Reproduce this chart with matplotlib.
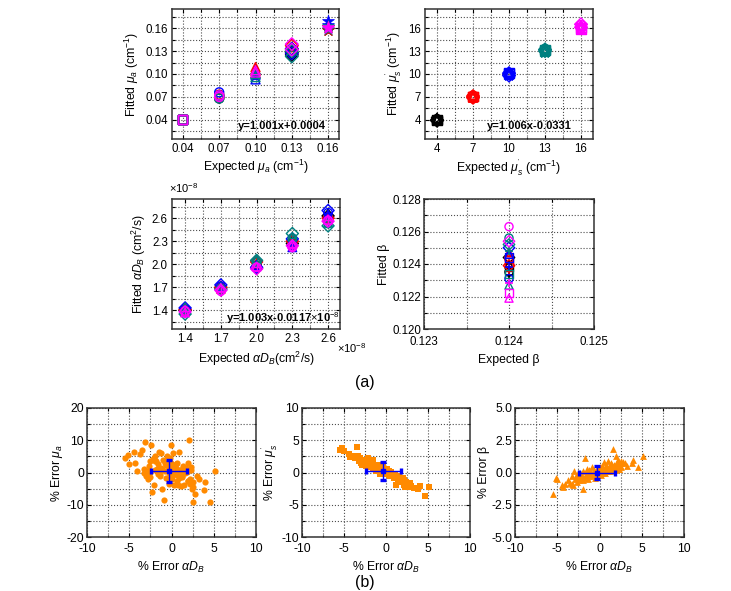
import matplotlib
matplotlib.use('Agg')
import matplotlib.pyplot as plt

plt.rcParams['font.family'] = ['Liberation Sans', 'DejaVu Sans']
plt.rcParams['mathtext.fontset'] = 'custom'
plt.rcParams['mathtext.rm'] = 'Liberation Sans'
plt.rcParams['mathtext.it'] = 'Liberation Sans:italic'
plt.rcParams['mathtext.bf'] = 'Liberation Sans:bold'
plt.rcParams['axes.unicode_minus'] = False

# ---------------- data ----------------
expected_mua = [0.04, 0.07, 0.10, 0.13, 0.16]
expected_mus = [4, 7, 10, 13, 16]
expected_db = [1.4, 1.7, 2.0, 2.3, 2.6]          # x 1e-8 cm^2/s
expected_beta = 0.124

# fitted mua, rows = mus' level (colour), cols = mua level, two runs
fit_mua_run1 = [
    [0.040, 0.068, 0.106, 0.125, 0.157],
    [0.040, 0.070, 0.109, 0.137, 0.161],
    [0.040, 0.076, 0.093, 0.133, 0.169],
    [0.040, 0.068, 0.096, 0.123, 0.163],
    [0.040, 0.072, 0.102, 0.139, 0.160],
]
fit_mua_run2 = [
    [0.041, 0.071, 0.101, 0.128, 0.162],
    [0.040, 0.073, 0.104, 0.133, 0.158],
    [0.041, 0.072, 0.099, 0.127, 0.164],
    [0.040, 0.071, 0.100, 0.130, 0.159],
    [0.041, 0.070, 0.105, 0.132, 0.161],
]

# fitted mus', rows = mua level (marker), cols = mus' level (colour)
fit_mus_run1 = [
    [4.0, 7.0, 10.1, 13.2, 16.1],
    [4.1, 7.2, 9.9, 12.9, 16.4],
    [3.9, 6.9, 10.3, 13.4, 15.9],
    [4.0, 7.1, 9.8, 13.0, 16.5],
    [4.1, 7.0, 10.0, 12.8, 16.2],
]
fit_mus_run2 = [
    [3.9, 7.1, 10.2, 13.1, 15.8],
    [4.0, 6.8, 10.0, 13.3, 16.0],
    [4.1, 7.2, 9.9, 12.9, 16.3],
    [3.9, 6.9, 10.1, 13.2, 16.1],
    [4.0, 7.0, 9.8, 13.0, 15.9],
]

# fitted alpha*DB (x 1e-8), rows = colour, cols = DB level
fit_db_diamond = [
    [1.40, 1.69, 1.95, 2.27, 2.63],
    [1.41, 1.70, 2.03, 2.30, 2.60],
    [1.43, 1.73, 1.96, 2.33, 2.70],
    [1.35, 1.67, 2.05, 2.40, 2.50],
    [1.38, 1.66, 1.94, 2.24, 2.56],
]
fit_db_triangle = [
    [1.39, 1.71, 2.00, 2.32, 2.66],
    [1.42, 1.68, 2.01, 2.28, 2.62],
    [1.38, 1.72, 1.99, 2.22, 2.65],
    [1.44, 1.70, 2.06, 2.36, 2.54],
    [1.37, 1.69, 1.97, 2.26, 2.58],
]
fit_db_circle = [
    [1.40, 1.70, 1.98, 2.29, 2.61],
    [1.39, 1.69, 2.02, 2.27, 2.59],
    [1.41, 1.71, 1.97, 2.25, 2.67],
    [1.37, 1.68, 2.03, 2.34, 2.53],
    [1.39, 1.65, 1.96, 2.22, 2.57],
]

# fitted beta, rows = colour
fit_beta = [
    [0.1235, 0.1240, 0.1244, 0.1238, 0.1233],
    [0.1243, 0.1247, 0.1239, 0.1241, 0.1236],
    [0.1231, 0.1246, 0.1250, 0.1244, 0.1238],
    [0.1256, 0.1227, 0.1252, 0.1234, 0.1248],
    [0.1263, 0.1219, 0.1254, 0.1222, 0.1228],
]

# % errors (b)
err_db = [
    -5.5, -5.2, -5.0, -4.4, -4.3, -4.1, -3.7, -3.5, -3.3, -3.2,
    -3.1, -3.0, -2.9, -2.8, -2.7, -2.6, -2.5, -2.4, -2.3, -2.2,
    -2.1, -2.0, -1.9, -1.8, -1.7, -1.6, -1.5, -1.4, -1.3, -1.2,
    -1.1, -1.0, -0.9, -0.8, -0.7, -0.6, -0.5, -0.4, -0.3, -0.2,
    -0.1, 0.0, 0.1, 0.2, 0.3, 0.4, 0.5, 0.6, 0.7, 0.8,
    0.9, 1.0, 1.1, 1.2, 1.3, 1.4, 1.5, 1.6, 1.7, 1.8,
    1.9, 2.0, 2.1, 2.2, 2.3, 2.4, 2.5, 2.6, 2.8, 3.0,
    3.3, 3.8, 4.0, 4.6, 5.1, -2.6, -2.0, -1.6, -1.1, -0.6,
    -0.3, 0.1, 0.4, 0.7, 1.0, 1.3, 1.6, 2.0, 2.3, -1.4,
    -0.8, -0.1, 0.3, 0.6, 0.9, 1.2, 1.5, 1.8, 2.2, 2.6,
]
err_mua = [
    4.5, 5.5, 2.5, 6.3, 3.0, 0.5, 5.8, 7.0, 1.0, 0.0,
    9.5, -1.0, 0.5, -2.0, 2.0, 3.5, 0.2, 8.5, -6.2, 4.2,
    -4.0, 0.8, 5.0, 3.5, 1.0, 2.5, 6.5, -0.5, 6.0, 1.5,
    -5.0, 4.0, -8.5, 0.5, 3.0, -1.8, 5.0, 2.0, -3.5, 4.5,
    8.5, -1.0, 1.5, 6.0, -4.0, 0.0, 2.5, -2.5, 3.0, -3.8,
    6.5, 0.5, -4.2, 1.0, -1.5, 2.0, -4.0, 0.0, 1.5, 0.5,
    -2.5, 3.0, 10.2, -3.5, 1.8, -5.0, -9.0, -4.5, -6.8, -1.0,
    -2.0, -5.5, -3.0, -9.0, 0.5, -1.5, 3.5, -0.5, 1.0, 2.2,
    0.0, -2.0, 1.8, -0.8, -1.0, 0.5, 1.2, -2.5, 0.8, -1.2,
    2.8, 3.0, -0.5, 1.0, -1.8, -1.0, 1.5, 0.2, -2.0, -3.0,
]
err_mus = [
    3.5, 3.8, 3.3, 2.9, 2.4, 2.6, 2.2, 3.9, 2.5, 1.8,
    2.2, 1.5, 2.0, 1.2, 1.8, 2.0, 1.4, 1.0, 1.6, 2.2,
    0.9, 1.5, 1.8, 0.8, 1.2, 0.6, 1.9, 0.5, 1.0, 0.2,
    0.8, 1.2, 0.3, 0.7, -0.2, 0.5, 0.1, 0.9, -0.1, 0.4,
    0.2, -0.3, 0.5, 0.0, -0.4, 0.3, -0.5, 0.1, -0.2, -0.6,
    -0.3, -0.9, -0.2, -2.0, -0.5, -1.0, -0.6, -1.3, -0.8, -1.1,
    -1.5, -0.9, -1.6, -1.2, -2.3, -1.4, -2.0, -2.3, -1.6, -2.1,
    -2.4, -2.6, -2.1, -3.6, -2.2, 1.3, 1.6, 0.9, 0.4, 0.6,
    0.3, 0.0, -0.1, -0.5, -0.7, -0.8, -1.1, -1.2, -1.5, 1.1,
    0.6, 0.2, -0.3, -0.4, -0.6, -0.9, -1.0, -1.4, -1.9, -2.1,
]
err_beta = [
    -1.7, -0.4, -0.5, -1.0, -1.1, -0.9, -0.6, -0.8, -0.3, -0.9,
    -1.0, 0.1, -0.5, -0.3, -0.7, -0.2, 0.0, -0.6, -0.4, -0.1,
    -0.3, -1.3, 0.1, -0.4, 1.1, -0.2, 0.3, -0.5, -0.1, 0.2,
    0.0, -0.2, 0.4, -0.3, 0.1, 0.2, -0.4, 0.0, 0.3, -0.1,
    0.2, 0.0, 0.4, -0.2, 0.5, 0.1, 0.8, 0.3, 0.0, 0.6,
    0.4, 0.9, 0.2, 0.5, 0.1, 0.7, 0.3, 1.8, 0.6, 0.4,
    0.5, 1.3, 0.8, 1.0, 0.3, 0.6, 0.7, 0.4, 0.8, 0.7,
    0.5, 0.7, 1.0, 0.4, 1.3, -0.5, -0.6, -0.2, 0.1, -0.1,
    0.2, -0.1, 0.0, 0.3, 0.1, 0.4, 0.2, 0.5, 0.3, -0.3,
    0.0, 0.1, 0.3, 0.2, 0.4, 0.3, 0.6, 0.2, 0.5, 0.9,
]
# mean +/- std (blue crosses)
mean_err_db, std_err_db = -0.3, 2.1
mean_err_mua, std_err_mua = 0.5, 3.5
mean_err_mus, std_err_mus = 0.2, 1.4
mean_err_beta, std_err_beta = 0.0, 0.5

colors = ['black', 'red', 'blue', '#008080', 'magenta']
markers = ['s', 'o', '^', 'D', '*']
orange = '#FF8A00'

W, H = 731, 591
fig = plt.figure(figsize=(W / 100, H / 100), dpi=100)

LBL = 8.8
TCK = 8.3


def add_ax(left, right, top, bottom):
    return fig.add_axes([left / W, 1 - bottom / H, (right - left) / W, (bottom - top) / H])


def style(ax, xmaj, xmin, ymaj, ymin, xlim, ylim):
    ax.set_xticks(xmaj)
    ax.set_xticks(xmin, minor=True)
    ax.set_yticks(ymaj)
    ax.set_yticks(ymin, minor=True)
    ax.set_xlim(xlim)
    ax.set_ylim(ylim)
    ax.grid(True, which='both', ls=':', color='0.3', lw=0.8)
    ax.set_axisbelow(True)
    ax.tick_params(which='both', direction='in', top=True, right=True,
                   labelsize=TCK, pad=3, width=0.8)
    ax.tick_params(which='major', length=3)
    ax.tick_params(which='minor', length=1.8)
    for s in ax.spines.values():
        s.set_linewidth(1.1)
        s.set_color('0.2')


# ---- (a) top-left: mua ----
ax1 = add_ax(172, 339, 9, 139)
for i, c in enumerate(colors):
    for run in (fit_mua_run1, fit_mua_run2):
        for j, m in enumerate(markers):
            if m == '*':
                ax1.scatter(expected_mua[j], run[i][j], marker=m, s=80, color=c, lw=0.5, zorder=3)
            else:
                ax1.scatter(expected_mua[j], run[i][j], marker=m, s=42, facecolors='none',
                            edgecolors=c, lw=1.0, zorder=3)
style(ax1, [0.04, 0.07, 0.10, 0.13, 0.16], [0.055, 0.085, 0.115, 0.145],
      [0.04, 0.07, 0.10, 0.13, 0.16], [0.025, 0.055, 0.085, 0.115, 0.145, 0.175],
      (0.031, 0.169), (0.015, 0.185))
ax1.set_xticklabels(['0.04', '0.07', '0.10', '0.13', '0.16'])
ax1.set_yticklabels(['0.04', '0.07', '0.10', '0.13', '0.16'])
ax1.set_xlabel(r'Expected $\mu_a$ (cm$^{-1}$)', fontsize=LBL, labelpad=2)
ax1.set_ylabel(r'Fitted $\mu_a$ (cm$^{-1}$)', fontsize=LBL, labelpad=3)
ax1.text(0.92, 0.1, 'y=1.001x+0.0004', transform=ax1.transAxes, ha='right', va='center',
         fontsize=8, fontweight='bold')

# ---- (a) top-right: mus' ----
ax2 = add_ax(425, 593, 9, 139)
for i, m in enumerate(markers):
    for run in (fit_mus_run1, fit_mus_run2):
        for j, c in enumerate(colors):
            ax2.scatter(expected_mus[j], run[i][j], marker=m, s=42 if m != '*' else 70,
                        facecolors='none', edgecolors=c, lw=1.0, zorder=3)
style(ax2, [4, 7, 10, 13, 16], [5.5, 8.5, 11.5, 14.5],
      [4, 7, 10, 13, 16], [2.5, 5.5, 8.5, 11.5, 14.5, 17.5],
      (3, 17), (1.5, 18.5))
ax2.set_xlabel(r"Expected $\mu_s^{'}$ (cm$^{-1}$)", fontsize=LBL, labelpad=2)
ax2.set_ylabel(r"Fitted $\mu_s^{'}$ (cm$^{-1}$)", fontsize=LBL, labelpad=3)
ax2.text(0.875, 0.1, 'y=1.006x-0.0331', transform=ax2.transAxes, ha='right', va='center',
         fontsize=8, fontweight='bold')

# ---- (a) middle-left: alpha DB ----
ax3 = add_ax(172, 340, 199, 329)
for i, c in enumerate(colors):
    for run, m in ((fit_db_diamond, 'D'), (fit_db_triangle, '^'), (fit_db_circle, 'o')):
        ax3.scatter(expected_db, run[i], marker=m, s=38, facecolors='none',
                    edgecolors=c, lw=1.0, zorder=3)
    ax3.scatter(expected_db, fit_db_circle[i], marker='+', s=40, color=c, lw=1.0, zorder=3)
style(ax3, [1.4, 1.7, 2.0, 2.3, 2.6], [1.55, 1.85, 2.15, 2.45],
      [1.4, 1.7, 2.0, 2.3, 2.6], [1.25, 1.55, 1.85, 2.15, 2.45, 2.75],
      (1.29, 2.70), (1.155, 2.85))
ax3.set_xticklabels(['1.4', '1.7', '2.0', '2.3', '2.6'])
ax3.set_yticklabels(['1.4', '1.7', '2.0', '2.3', '2.6'])
ax3.set_xlabel(r'Expected $\alpha D_B$(cm$^2$/s)', fontsize=LBL, labelpad=3)
ax3.set_ylabel(r'Fitted $\alpha D_B$ (cm$^2$/s)', fontsize=LBL, labelpad=3)
ax3.text(1.0, 0.08, r'y=1.003x-0.0117$\times$10$^{-8}$', transform=ax3.transAxes,
         ha='right', va='center', fontsize=8, fontweight='bold')
ax3.text(-0.02, 1.03, r'$\times$10$^{-8}$', transform=ax3.transAxes, ha='left', va='bottom',
         fontsize=8)
ax3.text(0.98, -0.15, r'$\times$10$^{-8}$', transform=ax3.transAxes, ha='left', va='center',
         fontsize=8)

# ---- (a) middle-right: beta ----
ax4 = add_ax(424, 594, 199, 329)
beta_markers = ['o', '^', 'D', 's', '+']
for i, c in enumerate(colors):
    for k, m in enumerate(beta_markers):
        if m == '+':
            ax4.scatter(expected_beta, fit_beta[i][k], marker=m, s=40, color=c, lw=1.2, zorder=3)
        else:
            ax4.scatter(expected_beta, fit_beta[i][k], marker=m, s=34, facecolors='none',
                        edgecolors=c, lw=1.0, zorder=3)
style(ax4, [0.123, 0.124, 0.125], [0.1235, 0.1245],
      [0.120, 0.122, 0.124, 0.126, 0.128], [0.121, 0.123, 0.125, 0.127],
      (0.123, 0.125), (0.120, 0.128))
ax4.set_xticklabels(['0.123', '0.124', '0.125'])
ax4.set_yticklabels(['0.120', '0.122', '0.124', '0.126', '0.128'])
ax4.tick_params(axis='y', which='major', pad=2)
ax4.tick_params(axis='x', which='major', pad=5)
ax4.set_xlabel('Expected β', fontsize=LBL, labelpad=4)
ax4.set_ylabel('Fitted β', fontsize=LBL, labelpad=2)

fig.text(365 / W, 1 - 382 / H, '(a)', ha='center', va='center', fontsize=11.5)


# ---- (b) error panels ----
def err_panel(left, right, yvals, ymean, ystd, marker, ylim, ymaj, ymin, ylabels, ylabel, ms):
    ax = add_ax(left, right, 408, 537)
    ax.scatter(err_db, yvals, marker=marker, s=ms, color=orange, lw=0, zorder=2)
    ax.errorbar(mean_err_db, ymean, xerr=std_err_db, yerr=ystd, fmt='s', color='blue',
                ms=3, elinewidth=1.0, capsize=2.5, capthick=2.4, zorder=3)
    style(ax, [-10, -5, 0, 5, 10], [-7.5, -2.5, 2.5, 7.5], ymaj, ymin, (-10, 10), ylim)
    ax.set_yticklabels(ylabels)
    ax.set_xlabel(r'% Error $\alpha D_B$', fontsize=LBL, labelpad=3)
    ax.set_ylabel(ylabel, fontsize=LBL, labelpad=1)
    ax.tick_params(axis='both', which='major', labelsize=TCK + 0.5)
    ax.tick_params(axis='y', which='major', pad=2)
    ax.tick_params(axis='x', which='major', pad=4.5)
    return ax


err_panel(87, 256, err_mua, mean_err_mua, std_err_mua, 'o', (-20, 20),
          [-20, -10, 0, 10, 20], [-15, -5, 5, 15], ['-20', '-10', '0', '10', '20'],
          r'% Error $\mu_a$', 20)
err_panel(302, 470, err_mus, mean_err_mus, std_err_mus, 's', (-10, 10),
          [-10, -5, 0, 5, 10], [-7.5, -2.5, 2.5, 7.5], ['-10', '-5', '0', '5', '10'],
          r"% Error $\mu_s^{'}$", 18)
err_panel(515, 684, err_beta, mean_err_beta, std_err_beta, '^', (-5, 5),
          [-5, -2.5, 0, 2.5, 5], [-3.75, -1.25, 1.25, 3.75], ['-5.0', '-2.5', '0.0', '2.5', '5.0'],
          '% Error β', 24)

fig.text(365 / W, 1 - 583 / H, '(b)', ha='center', va='center', fontsize=11.5)

fig.savefig('out.png', dpi=100)
